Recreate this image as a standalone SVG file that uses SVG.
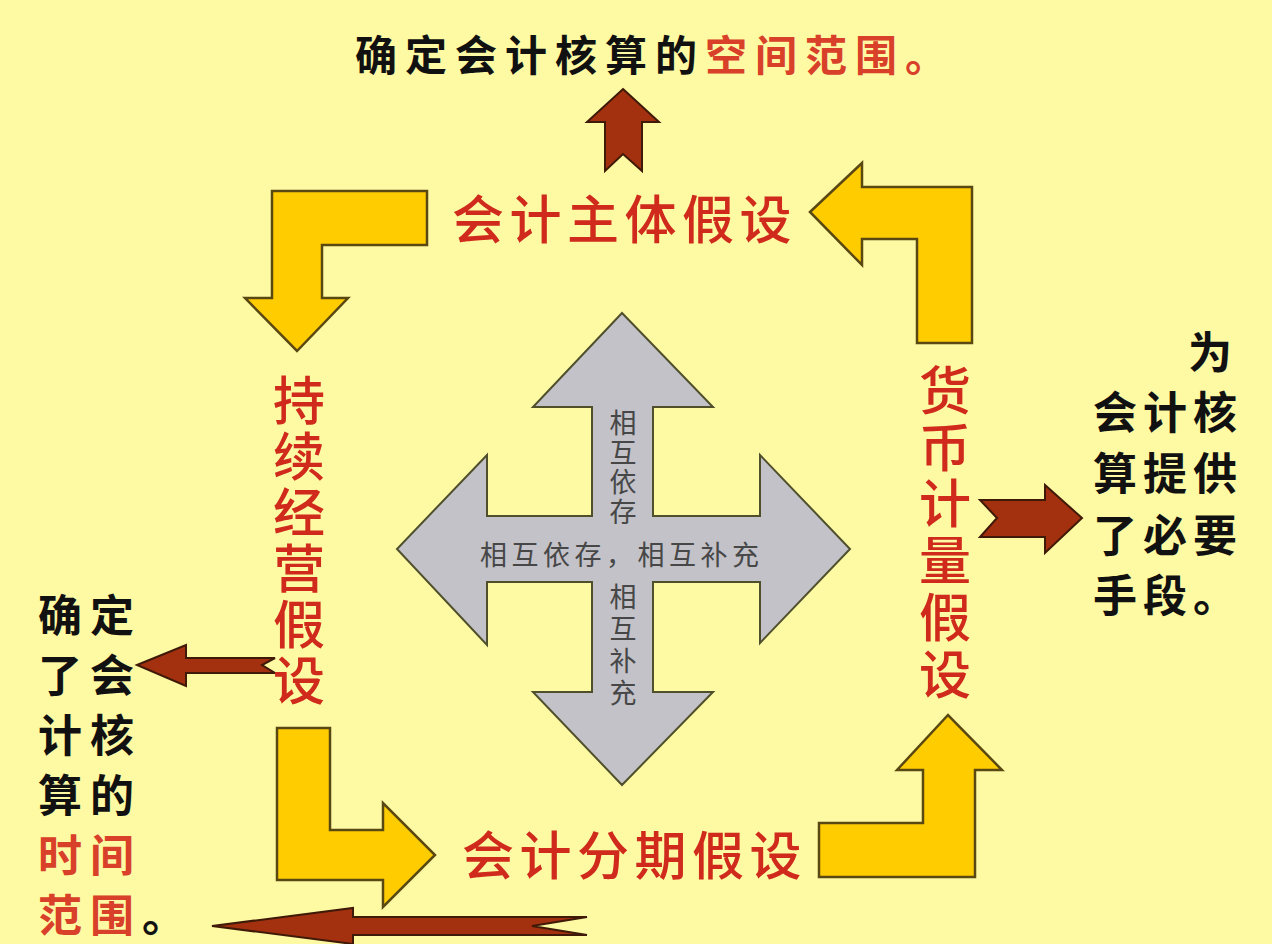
<svg xmlns="http://www.w3.org/2000/svg" width="1272" height="944" viewBox="0 0 1272 944">
<defs>
<style>
.bg{fill:#FEF9A3}
.yarrow{fill:#FFCC00;stroke:#5a4812;stroke-width:2.5;stroke-linejoin:miter}
.barrow{fill:#A3300F;stroke:#3f1a08;stroke-width:2;stroke-linejoin:miter}
.cross{fill:#C2C2C8;stroke:#4f4f2c;stroke-width:2;stroke-linejoin:miter}
.cjk{font-family:"Noto Sans CJK SC","Noto Sans CJK JP",sans-serif}
.vert{writing-mode:vertical-rl}
.red{fill:#CF2A1B}
.title{font-size:52px;font-weight:500}
.note{font-size:44px;fill:#111;font-weight:700}
.ctext{font-size:27px;fill:#474747}
.hl{fill:#D8402A}
</style>
</defs>
<rect class="bg" x="0" y="0" width="1272" height="944"/>

<g id="connectors">
  <polygon id="arrow-tl" class="yarrow" points="272,191 427,191 427,245 322,245 322,298 348,298 297,351 245,298 272,298"/>
  <polygon id="arrow-bl" class="yarrow" points="277,728 330,728 330,830 383,830 383,803 435,855 383,907 383,880 277,880"/>
  <polygon id="arrow-br" class="yarrow" points="819,823 923,823 923,770 897,770 948,715 1002,770 975,770 975,877 819,877"/>
  <polygon id="arrow-tr" class="yarrow" points="810,212 862,163 862,187 972,187 972,343 917,343 917,239 862,239 862,265"/>
  <polygon id="arrow-up" class="barrow" points="623,89 659,122 642,122 642,171 623,154 605,171 605,122 587,122"/>
  <polygon id="arrow-right" class="barrow" points="980,500 1045,500 1045,485 1082,518 1045,553 1045,537 980,537 997,518"/>
  <polygon id="arrow-left" class="barrow" points="137,665 186,645 186,658 275,658 262,665 275,673 186,673 186,686"/>
  <polygon id="arrow-bottom" class="barrow" points="212,926 353,908 353,917 587,917 532,926 587,935 353,935 353,944"/>
</g>

<g id="center-cross">
  <polygon class="cross" points="622,313 713,407 653,407 653,516 760,516 760,455 850,549 760,643 760,582 653,582 653,692 713,692 622,785 533,692 592,692 592,582 487,582 487,645 397,549 487,455 487,516 592,516 592,407 533,407"/>
  <text class="cjk ctext vert" x="623" y="409.5" letter-spacing="2.5">相互依存</text>
  <text class="cjk ctext" x="480" y="553" dominant-baseline="central" letter-spacing="4.5">相互依存，相互补充</text>
  <text class="cjk ctext vert" x="623" y="583.5" letter-spacing="5">相互补充</text>
</g>

<g id="node-entity">
  <text class="cjk title red" x="452" y="216" dominant-baseline="central" letter-spacing="5.5">会计主体假设</text>
</g>

<g id="node-going-concern">
  <text class="cjk title red vert" x="299" y="374" letter-spacing="4">持续经营假设</text>
</g>

<g id="node-period">
  <text class="cjk title red" x="462" y="852" dominant-baseline="central" letter-spacing="5.5">会计分期假设</text>
</g>

<g id="node-money">
  <text class="cjk title red vert" x="945" y="364" letter-spacing="4.8">货币计量假设</text>
</g>

<g id="note-top">
  <text class="cjk note" x="355" y="52" dominant-baseline="central" letter-spacing="8" style="font-size:42px">确定会计核算的<tspan class="hl">空间范围。</tspan></text>
</g>

<g id="note-right">
  <text class="cjk note" x="1188" y="350" dominant-baseline="central">为</text>
  <text class="cjk note" x="1093" y="410" dominant-baseline="central" letter-spacing="6">会计核</text>
  <text class="cjk note" x="1093" y="471" dominant-baseline="central" letter-spacing="6">算提供</text>
  <text class="cjk note" x="1093" y="533" dominant-baseline="central" letter-spacing="6">了必要</text>
  <text class="cjk note" x="1093" y="593" dominant-baseline="central" letter-spacing="6">手段。</text>
</g>

<g id="note-left">
  <text class="cjk note" x="38" y="613" dominant-baseline="central" letter-spacing="8">确定</text>
  <text class="cjk note" x="38" y="673" dominant-baseline="central" letter-spacing="8">了会</text>
  <text class="cjk note" x="38" y="733" dominant-baseline="central" letter-spacing="8">计核</text>
  <text class="cjk note" x="38" y="793" dominant-baseline="central" letter-spacing="8">算的</text>
  <text class="cjk note hl" x="38" y="853" dominant-baseline="central" letter-spacing="8">时间</text>
  <text class="cjk note" x="38" y="913" dominant-baseline="central" letter-spacing="8"><tspan class="hl">范围</tspan>。</text>
</g>
</svg>
